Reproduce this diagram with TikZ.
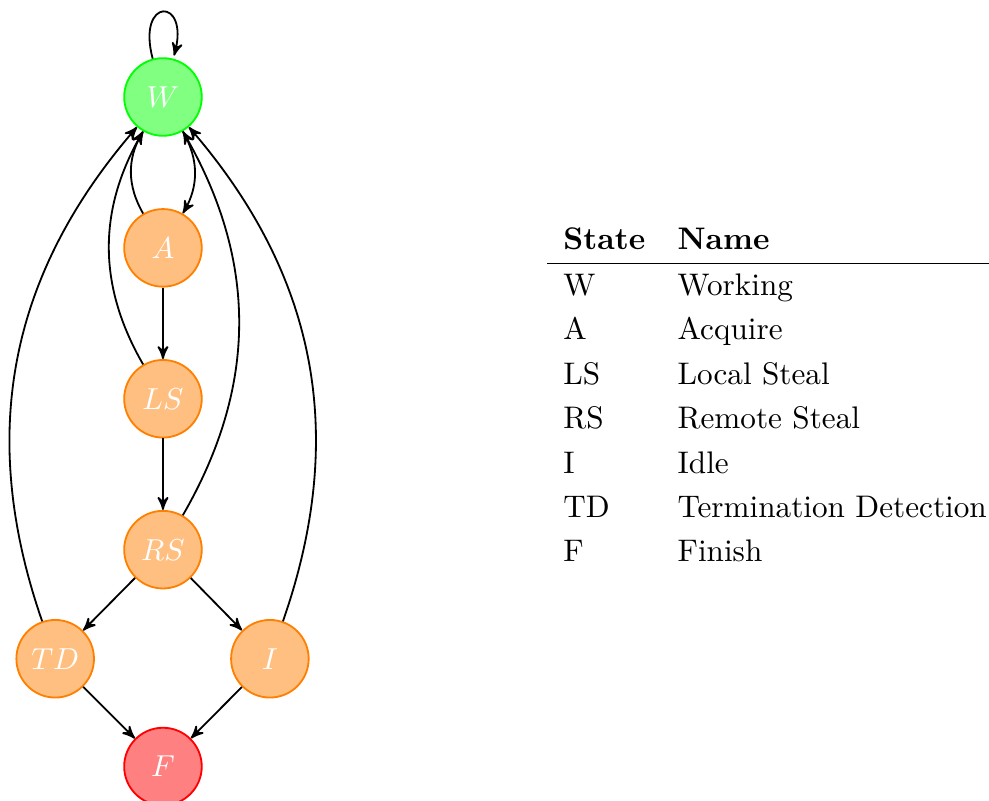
\documentclass[tikz,border=0pt]{standalone}
\usetikzlibrary{arrows}

\begin{document}
\begin{tikzpicture}[semithick, >=stealth',
    state/.style={circle, draw=orange, fill=orange!50, text=white,
                  minimum size=0.9cm, inner sep=0pt},
    working/.style={state, draw=green, fill=green!50},
    final/.style={state, draw=red, fill=red!50}]
    \useasboundingbox (0, 0) rectangle (11.47, 9.28);

    % States
    \node [working] (W) at (1.89, 8.155) {$W$};
    \node [state] (A) at (1.89, 6.405) {$A$};
    \node [state] (LS) at (1.89, 4.655) {$LS$};
    \node [state] (RS) at (1.89, 2.905) {$RS$};
    \node [state] (TD) at (0.64, 1.64) {$TD$};
    \node [state] (I) at (3.13, 1.64) {$I$};
    \node [final] (F) at (1.89, 0.39) {$F$};

    % Transitions
    \path [->] (W) edge [loop above] (W)
               (W) edge [bend left] (A)
               (A) edge [bend left] (W)
               (A) edge (LS)
               (LS) edge [bend left] (W)
               (LS) edge (RS)
               (RS) edge [bend right] (W)
               (RS) edge (TD)
               (RS) edge (I)
               (TD) edge [bend left] (W)
               (I) edge [bend right] (W)
               (TD) edge (F)
               (I) edge (F);

    % Legend
    \node [anchor=north west, inner sep=0pt,
           font=\fontsize{10.3}{12.36}\selectfont] (legend) at (6.336, 6.752) {%
      \renewcommand{\arraystretch}{1.185}%
      \setlength{\tabcolsep}{5.35pt}%
      \begin{tabular}{ll}
        \textbf{State} & \textbf{Name} \\ \hline
        W  & Working \\
        A  & Acquire \\
        LS & Local Steal \\
        RS & Remote Steal \\
        I  & Idle \\
        TD & Termination Detection \\
        F  & Finish
      \end{tabular}};
\end{tikzpicture}
\end{document}
